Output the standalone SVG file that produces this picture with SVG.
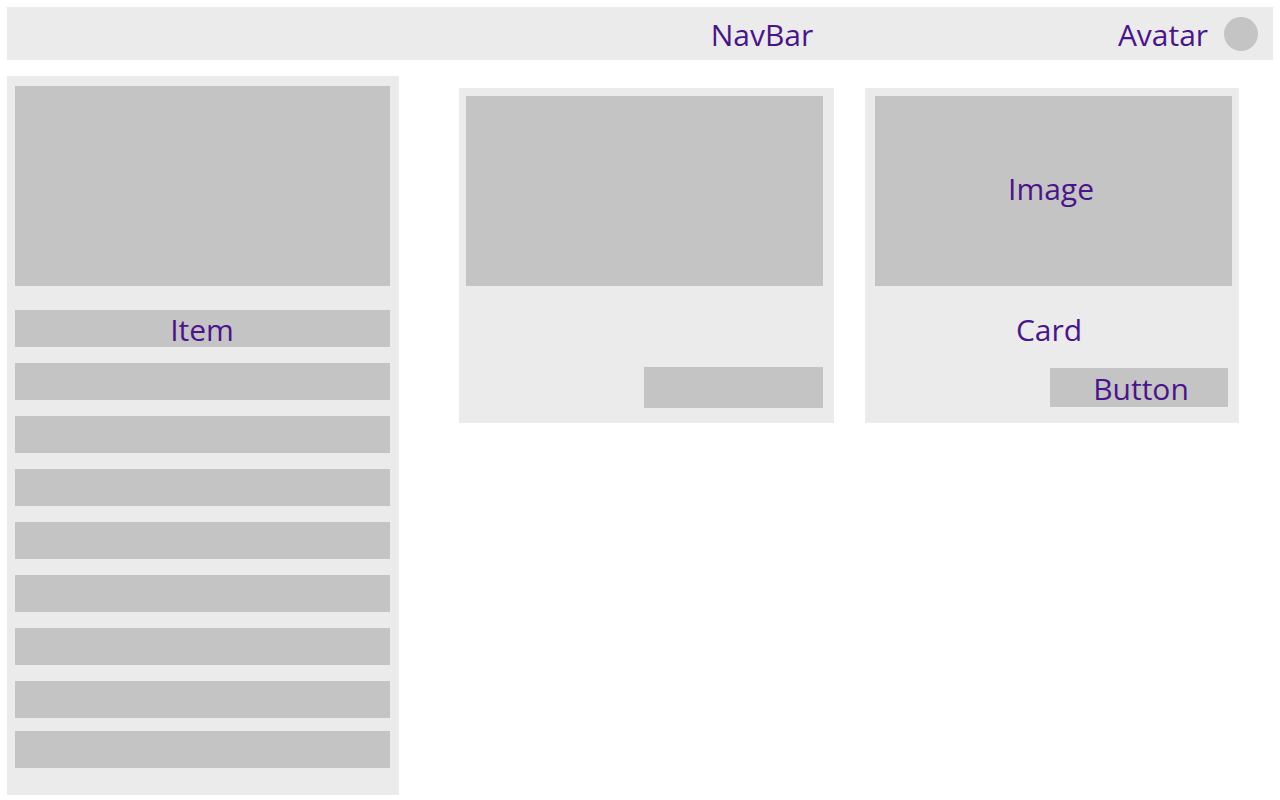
<svg xmlns="http://www.w3.org/2000/svg" width="1280" height="800" viewBox="0 0 1280 800">
<style>
.panel{fill:#ebebeb}
.ph{fill:#c4c4c4}
.lbl{font-family:"Open Sans","Noto Sans",sans-serif;font-size:30px;fill:#4a148c;text-anchor:middle;dominant-baseline:central}
</style>
<rect width="1280" height="800" fill="#ffffff"/>
<g id="navbar">
<rect class="panel" x="7" y="7" width="1266" height="53"/>
<text class="lbl" x="762" y="34">NavBar</text>
<text class="lbl" x="1163" y="34">Avatar</text>
<circle id="avatar" class="ph" cx="1241" cy="34" r="17"/>
</g>
<g id="sidebar">
<rect class="panel" x="7" y="76" width="392" height="719"/>
<rect class="ph" x="15" y="86" width="375" height="200"/>
<rect class="ph" x="15" y="310" width="375" height="37"/>
<text class="lbl" x="202" y="329">Item</text>
<rect class="ph" x="15" y="363" width="375" height="37"/>
<rect class="ph" x="15" y="416" width="375" height="37"/>
<rect class="ph" x="15" y="469" width="375" height="37"/>
<rect class="ph" x="15" y="522" width="375" height="37"/>
<rect class="ph" x="15" y="575" width="375" height="37"/>
<rect class="ph" x="15" y="628" width="375" height="37"/>
<rect class="ph" x="15" y="681" width="375" height="37"/>
<rect class="ph" x="15" y="731" width="375" height="37"/>
</g>
<g id="card1">
<rect class="panel" x="459" y="88" width="375" height="335"/>
<rect class="ph" x="466" y="96" width="357" height="190"/>
<rect class="ph" x="644" y="367" width="179" height="41"/>
</g>
<g id="card2">
<rect class="panel" x="865" y="88" width="374" height="335"/>
<rect class="ph" x="875" y="96" width="357" height="190"/>
<text class="lbl" x="1051" y="188">Image</text>
<text class="lbl" x="1049" y="329">Card</text>
<rect class="ph" x="1050" y="368" width="178" height="39"/>
<text class="lbl" x="1141" y="388">Button</text>
</g>
<g id="connectors"/>
</svg>
